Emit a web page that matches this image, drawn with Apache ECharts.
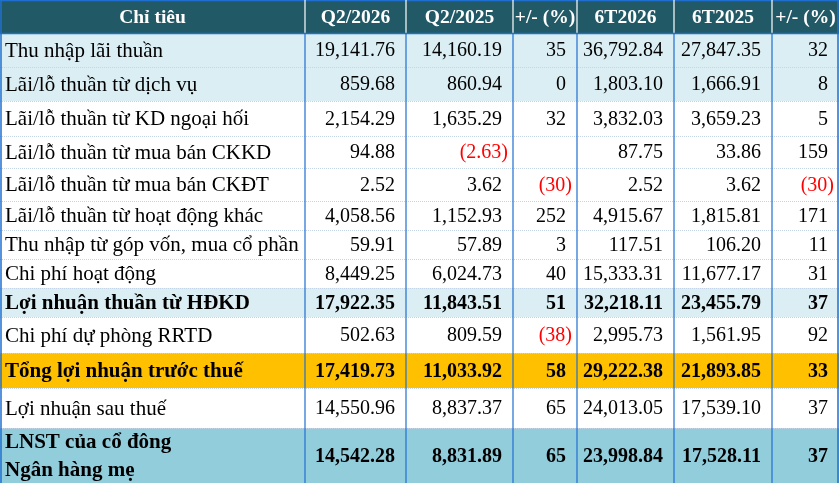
<!DOCTYPE html>
<html lang="vi">

<head>
  <meta charset="UTF-8">
  <title>KQKD</title>
  <script src="https://cdn.jsdelivr.net/npm/echarts@6/dist/echarts.min.js"></script>
  <style>
    body { margin: 0; background: #fff; }
  </style>
</head>

<body>
  <div id="main" style="width: 839px;height:483px;"></div>
  <script>
    // dữ liệu bảng
    var headers = ['Chỉ tiêu', 'Q2/2026', 'Q2/2025', '+/- (%)', '6T2026', '6T2025', '+/- (%)'];
    var items = [
      'Thu nhập lãi thuần',
      'Lãi/lỗ thuần từ dịch vụ',
      'Lãi/lỗ thuần từ KD ngoại hối',
      'Lãi/lỗ thuần từ mua bán CKKD',
      'Lãi/lỗ thuần từ mua bán CKĐT',
      'Lãi/lỗ thuần từ hoạt động khác',
      'Thu nhập từ góp vốn, mua cổ phần',
      'Chi phí hoạt động',
      'Lợi nhuận thuần từ HĐKD',
      'Chi phí dự phòng RRTD',
      'Tổng lợi nhuận trước thuế',
      'Lợi nhuận sau thuế',
      'LNST của cổ đông\nNgân hàng mẹ'
    ];
    var q2_2026 = [19141.76, 859.68, 2154.29, 94.88, 2.52, 4058.56, 59.91, 8449.25, 17922.35, 502.63, 17419.73, 14550.96, 14542.28];
    var q2_2025 = [14160.19, 860.94, 1635.29, -2.63, 3.62, 1152.93, 57.89, 6024.73, 11843.51, 809.59, 11033.92, 8837.37, 8831.89];
    var chgQ = [35, 0, 32, null, -30, 252, 3, 40, 51, -38, 58, 65, 65];
    var h1_2026 = [36792.84, 1803.10, 3832.03, 87.75, 2.52, 4915.67, 117.51, 15333.31, 32218.11, 2995.73, 29222.38, 24013.05, 23998.84];
    var h1_2025 = [27847.35, 1666.91, 3659.23, 33.86, 3.62, 1815.81, 106.20, 11677.17, 23455.79, 1561.95, 21893.85, 17539.10, 17528.11];
    var chgH = [32, 8, 5, 159, -30, 171, 11, 31, 37, 92, 33, 37, 37];

    // bố cục + kiểu
    var colEdges = [0, 305, 406, 513, 577, 674, 772, 839];
    var rowHeights = [33, 34, 34, 35, 32, 33, 29, 29, 29, 29, 36, 35, 40, 55];
    var rowFill = ['#daeef3', '#daeef3', '#fff', '#fff', '#fff', '#fff', '#fff', '#fff', '#daeef3', '#fff', '#ffc000', '#fff', '#92cddc'];
    var rowBold = [0, 0, 0, 0, 0, 0, 0, 0, 1, 0, 1, 0, 1];
    var FONT = 'Liberation Serif';
    var SIZE_HEAD = 19.5, SIZE_LABEL = 21, SIZE_NUM = 20;
    var headFill = '#215a66';
    var lineBlue = '#1f6fd0';

    var rowEdges = [0];
    rowHeights.forEach(function (h, i) { rowEdges.push(rowEdges[i] + h); });

    function fmtNum(v) {
      if (v == null) return '';
      var s = Math.abs(v).toFixed(2).replace(/\B(?=(\d{3})+(?!\d))/g, ',');
      return v < 0 ? '(' + s + ')' : s;
    }
    function fmtPct(v) {
      if (v == null) return '';
      var s = String(Math.abs(v));
      return v < 0 ? '(' + s + ')' : s;
    }

    var cols = [q2_2026, q2_2025, chgQ, h1_2026, h1_2025, chgH];
    var fmts = [fmtNum, fmtNum, fmtPct, fmtNum, fmtNum, fmtPct];

    var rowData = [];
    for (var r = 0; r < rowHeights.length; r++) rowData.push([r, r]);

    var myChart = echarts.init(document.getElementById('main'));

    function txt(x, y, text, color, bold, align, size) {
      return {
        type: 'text',
        x: x, y: y,
        style: {
          text: text, fill: color,
          fontFamily: FONT, fontSize: size, fontWeight: bold ? 'bold' : 'normal',
          align: align, verticalAlign: 'middle', lineHeight: 28
        }
      };
    }

    function renderItem(params, api) {
      var r = api.value(0);
      var tl = api.coord([colEdges[0], rowEdges[r]]);
      var br = api.coord([colEdges[colEdges.length - 1], rowEdges[r + 1]]);
      var yMid = (tl[1] + br[1]) / 2 + 1;
      var children = [];
      var isHead = r === 0;
      var fill = isHead ? headFill : rowFill[r - 1];

      children.push({
        type: 'rect',
        shape: { x: tl[0], y: tl[1], width: br[0] - tl[0], height: br[1] - tl[1] },
        style: { fill: fill }
      });

      var bold = isHead || rowBold[r - 1];

      for (var c = 0; c < colEdges.length - 1; c++) {
        var x0 = api.coord([colEdges[c], 0])[0];
        var x1 = api.coord([colEdges[c + 1], 0])[0];
        if (isHead) {
          children.push(txt((x0 + x1) / 2, yMid, headers[c], '#fff', true, 'center', SIZE_HEAD));
        } else if (c === 0) {
          children.push(txt(x0 + 5, yMid, items[r - 1], '#000', bold, 'left', SIZE_LABEL));
        } else {
          var v = cols[c - 1][r - 1];
          var neg = v != null && v < 0;
          children.push(txt(x1 - (neg ? 5 : 11), yMid, fmts[c - 1](v), neg ? '#ff0000' : '#000', bold, 'right', SIZE_NUM));
        }
      }

      // đường kẻ ngang phía trên hàng
      if (r <= 1) {
        children.push({
          type: 'line',
          shape: { x1: tl[0], y1: tl[1] + 0.5, x2: br[0], y2: tl[1] + 0.5 },
          style: { stroke: lineBlue, lineWidth: 1.5 }
        });
      } else {
        children.push({
          type: 'line',
          shape: { x1: tl[0], y1: tl[1] + 0.5, x2: br[0], y2: tl[1] + 0.5 },
          style: { stroke: '#c3d5e6', lineWidth: 1, lineDash: [1, 1] }
        });
      }

      // đường kẻ dọc
      for (var k = 0; k < colEdges.length; k++) {
        var xx = api.coord([colEdges[k], 0])[0];
        if (k === 0) xx += 1;
        if (k === colEdges.length - 1) xx -= 1;
        var outer = k === 0 || k === colEdges.length - 1;
        children.push({
          type: 'line',
          shape: { x1: xx, y1: tl[1] + (r === 1 ? 1 : 0), x2: xx, y2: br[1] },
          style: { stroke: isHead && !outer ? '#ffffff' : lineBlue, lineWidth: outer ? 1.5 : 1.2 }
        });
      }

      return { type: 'group', children: children };
    }

    var option = {
      animation: false,
      grid: { left: 0, right: 0, top: 0, bottom: 0 },
      xAxis: { type: 'value', min: 0, max: 839, show: false },
      yAxis: { type: 'value', min: 0, max: 483, inverse: true, show: false },
      series: [{
        type: 'custom',
        renderItem: renderItem,
        encode: { x: 0, y: 1 },
        data: rowData,
        clip: false
      }]
    };

    myChart.setOption(option);
  </script>
</body>

</html>
